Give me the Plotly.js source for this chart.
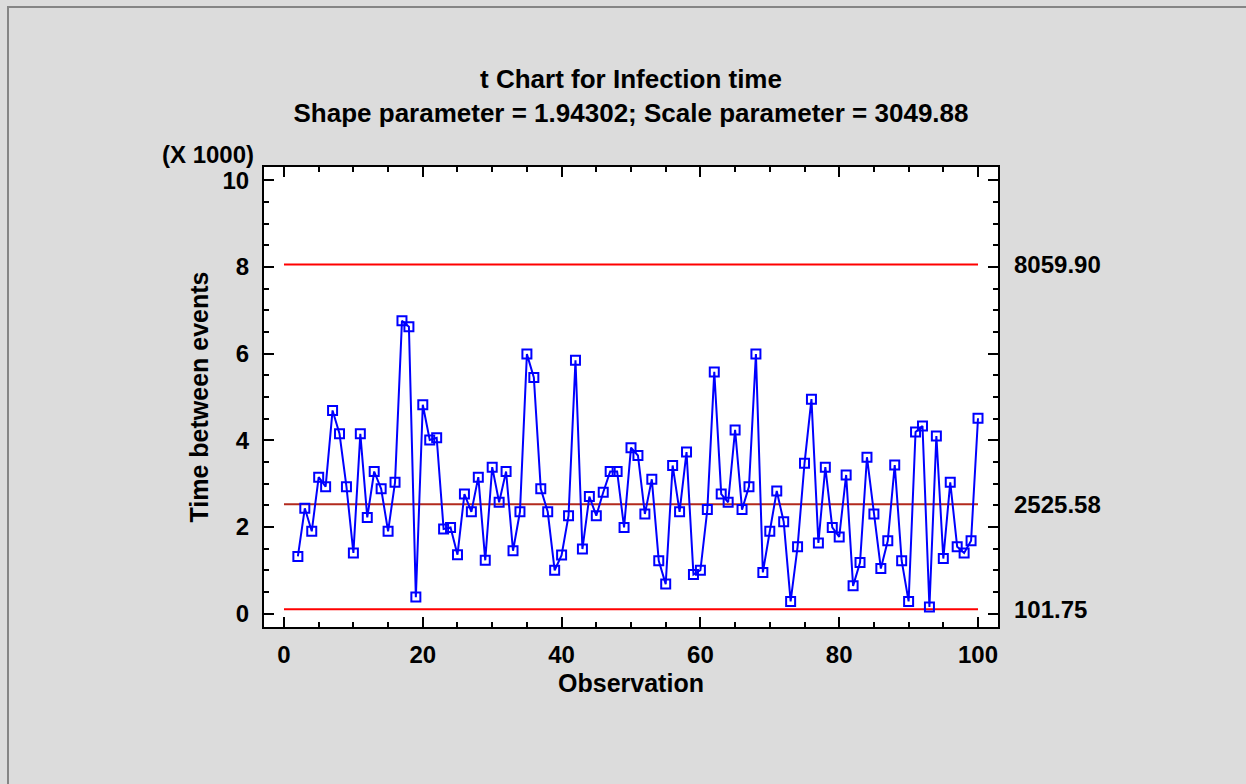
<!DOCTYPE html>
<html>
<head>
<meta charset="utf-8">
<script src="https://cdn.plot.ly/plotly-3.0.1.min.js"></script>
<style>
  html, body { margin: 0; padding: 0; background: #dcdcdc; }
  #wrap { position: relative; width: 1246px; height: 784px; overflow: hidden; }
  #chart { width: 1246px; height: 784px; }
  #frame { position: absolute; left: 7px; top: 6px; width: 1300px; height: 900px;
           border-left: 2px solid #858585; border-top: 2px solid #858585; pointer-events: none; }
</style>
</head>
<body>
<div id="wrap">
  <div id="chart"></div>
  <div id="frame"></div>
</div>
<script>
// Observation numbers and time between events (hours)
const observation = [
  2, 3, 4, 5, 6, 7, 8, 9, 10, 11, 12, 13, 14, 15, 16, 17, 18, 19, 20, 21,
  22, 23, 24, 25, 26, 27, 28, 29, 30, 31, 32, 33, 34, 35, 36, 37, 38, 39, 40, 41,
  42, 43, 44, 45, 46, 47, 48, 49, 50, 51, 52, 53, 54, 55, 56, 57, 58, 59, 60, 61,
  62, 63, 64, 65, 66, 67, 68, 69, 70, 71, 72, 73, 74, 75, 76, 77, 78, 79, 80, 81,
  82, 83, 84, 85, 86, 87, 88, 89, 90, 91, 92, 93, 94, 95, 96, 97, 98, 99, 100
];
const timeBetween = [
  1320, 2430, 1900, 3150, 2930, 4690, 4150, 2930, 1400, 4150,
  2220, 3280, 2880, 1900, 3030, 6760, 6620, 380, 4820, 4010,
  4060, 1950, 1990, 1360, 2760, 2350, 3150, 1230, 3380, 2570,
  3280, 1450, 2350, 5990, 5450, 2880, 2350, 1000, 1350, 2260,
  5850, 1490, 2700, 2260, 2800, 3280, 3280, 1990, 3830, 3650,
  2300, 3100, 1220, 680, 3420, 2350, 3730, 900, 1000, 2400,
  5580, 2760, 2570, 4240, 2400, 2930, 5990, 950, 1900, 2830,
  2120, 280, 1540, 3470, 4950, 1630, 3380, 1990, 1770, 3200,
  640, 1180, 3610, 2300, 1040, 1680, 3430, 1220, 280, 4190,
  4330, 150, 4100, 1270, 3030, 1540, 1400, 1680, 4510
];

// Control limits: UCL, centre line, LCL
const limitNames = ['UCL', 'CL', 'LCL'];
const limitValues = [8059.90, 2525.58, 101.75];
const limitLabels = ['8059.90', '2525.58', '101.75'];
const limitSpan = [0, 100];

const yScale = 1000;   // axis shows values in thousands

const chartTitle = 't Chart for Infection time<br>Shape parameter = 1.94302; Scale parameter = 3049.88';
const xTitle = 'Observation';
const yTitle = 'Time between events';
const scaleNote = '(X 1000)';

const FONT = 'Liberation Sans, Arial, sans-serif';
const limitColors = ['#ff0000', '#b22a1e', '#ff0000'];

function boldFont(size) {
  return { family: FONT, size: size, color: '#000000', weight: 'bold' };
}

const traces = limitValues.map((v, i) => ({
  type: 'scatter',
  mode: 'lines',
  name: limitNames[i],
  x: limitSpan,
  y: limitSpan.map(() => v / yScale),
  line: { color: limitColors[i], width: 2 },
  hoverinfo: 'skip'
}));

traces.push({
  type: 'scatter',
  mode: 'lines+markers',
  name: 'Time between events',
  x: observation,
  y: timeBetween.map(v => v / yScale),
  line: { color: '#0000ff', width: 2 },
  marker: { symbol: 'square-open', size: 9, color: '#0000ff', line: { width: 2, color: '#0000ff' } }
});

const annotations = limitValues.map((v, i) => ({
  xref: 'paper', yref: 'y',
  x: 1, y: v / yScale,
  xanchor: 'left', yanchor: 'middle',
  xshift: 14,
  text: limitLabels[i],
  showarrow: false,
  font: boldFont(24)
}));

annotations.push({
  xref: 'paper', yref: 'paper',
  x: 0, y: 1,
  xanchor: 'right', yanchor: 'middle',
  xshift: -8, yshift: 13,
  text: scaleNote,
  showarrow: false,
  font: boldFont(24)
});

const axisCommon = {
  showgrid: false,
  zeroline: false,
  showline: true,
  linecolor: '#000000',
  linewidth: 2,
  mirror: 'allticks',
  ticks: 'inside',
  tickcolor: '#000000',
  tickwidth: 2,
  tickfont: boldFont(24)
};

const layout = {
  width: 1246,
  height: 784,
  paper_bgcolor: '#dcdcdc',
  plot_bgcolor: '#ffffff',
  showlegend: false,
  margin: { l: 264, r: 248, t: 167, b: 157 },
  title: {
    text: chartTitle,
    font: boldFont(26),
    x: 0.5, xref: 'paper', xanchor: 'center',
    y: 0.888, yref: 'container', yanchor: 'top'
  },
  xaxis: Object.assign({}, axisCommon, {
    range: [-2.88, 102.88],
    tickmode: 'linear', tick0: 0, dtick: 20,
    ticklen: 10,
    ticklabelstandoff: 5,
    minor: { dtick: 5, ticks: 'inside', ticklen: 5, tickwidth: 2, tickcolor: '#000000' },
    title: { text: xTitle, font: boldFont(25), standoff: 8 }
  }),
  yaxis: Object.assign({}, axisCommon, {
    range: [-0.31, 10.31],
    tickmode: 'linear', tick0: 0, dtick: 2,
    ticklen: 10,
    ticklabelstandoff: 8,
    minor: { dtick: 0.5, ticks: 'inside', ticklen: 5, tickwidth: 2, tickcolor: '#000000' },
    title: { text: yTitle, font: boldFont(25), standoff: 7 }
  }),
  annotations: annotations
};

Plotly.newPlot('chart', traces, layout, { displayModeBar: false, staticPlot: true });
</script>
</body>
</html>
